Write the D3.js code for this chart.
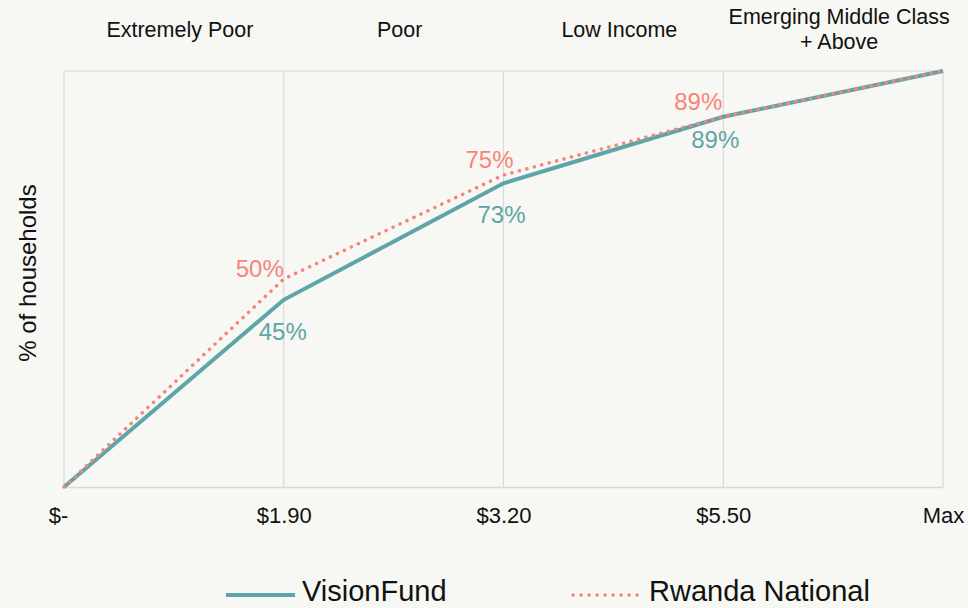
<!DOCTYPE html>
<html>
<head>
<meta charset="utf-8">
<script src="https://cdn.jsdelivr.net/npm/d3@7"></script>
<style>
  body { margin: 0; background: #f7f7f3; }
  text { font-family: "Liberation Sans", Arial, sans-serif; }
</style>
</head>
<body>
<script>
// data
const tickLabels = ["$-", "$1.90", "$3.20", "$5.50", "Max"];
const bands = [["Extremely Poor"], ["Poor"], ["Low Income"], ["Emerging Middle Class", "+ Above"]];
const visionFund = [0, 45, 73, 89, 100];
const rwanda = [0, 50, 75, 89, 100];

// label nudges (layout only)
const vfOffset = [[-1, 40], [-2, 40], [-8, 31]];
const rwOffset = [[-24, -2], [-14, -7], [-25, -7]];

const W = 968, H = 608;
const margin = { top: 71, right: 25, bottom: 121, left: 64 };
const width = W - margin.left - margin.right;
const height = H - margin.top - margin.bottom;

const teal = "#5ea5a9";
const salmon = "#f9837a";
const grid = "#d9d9d6";

const svg = d3.select("body").append("svg")
    .attr("width", W)
    .attr("height", H)
    .style("background", "#f7f7f3");

const g = svg.append("g")
    .attr("transform", "translate(" + margin.left + "," + margin.top + ")");

const x = d3.scalePoint().domain(d3.range(tickLabels.length)).range([0, width]);
const y = d3.scaleLinear().domain([0, 100]).range([height, 0]);

// grid lines
g.selectAll(".vgrid").data(d3.range(tickLabels.length))
    .enter().append("line")
    .attr("x1", d => x(d)).attr("x2", d => x(d))
    .attr("y1", 0).attr("y2", height)
    .attr("stroke", grid).attr("stroke-width", 1.2);
g.append("line").attr("x1", 0).attr("x2", width).attr("y1", 0).attr("y2", 0)
    .attr("stroke", grid).attr("stroke-width", 1.2);

// x axis
const xAxis = d3.axisBottom(x).tickSize(0).tickPadding(20).tickFormat(i => tickLabels[i]);
const ax = g.append("g").attr("transform", "translate(0," + height + ")").call(xAxis);
ax.select(".domain").attr("stroke", grid).attr("stroke-width", 1.5);
ax.selectAll("text").attr("font-size", 22).attr("fill", "#111")
    .attr("font-family", "Liberation Sans, Arial, sans-serif");
ax.selectAll(".tick").filter(i => i === 0).select("text").attr("dx", -6);

// band labels on top
bands.forEach((lines, i) => {
    const cx = (x(i) + x(i + 1)) / 2 + 6;
    const t = svg.append("text")
        .attr("x", margin.left + cx)
        .attr("y", lines.length > 1 ? 24 : 37)
        .attr("text-anchor", "middle")
        .attr("font-size", 21.5)
        .attr("fill", "#111");
    lines.forEach((l, j) => {
        t.append("tspan").attr("x", margin.left + cx).attr("dy", j ? 25 : 0).text(l);
    });
});

// y label
svg.append("text")
    .attr("transform", "translate(36,273) rotate(-90)")
    .attr("text-anchor", "middle")
    .attr("font-size", 24)
    .attr("fill", "#111")
    .text("% of households");

const line = d3.line().x((d, i) => x(i)).y(d => y(d));

g.append("path").datum(visionFund)
    .attr("d", line)
    .attr("fill", "none")
    .attr("stroke", teal)
    .attr("stroke-width", 4);

g.append("path").datum(rwanda)
    .attr("d", line)
    .attr("fill", "none")
    .attr("stroke", salmon)
    .attr("stroke-width", 3.5)
    .attr("stroke-linecap", "round")
    .attr("stroke-dasharray", "0.1 7.6");

// data labels
g.selectAll(".vlab").data(visionFund.slice(1, 4))
    .enter().append("text")
    .attr("x", (d, i) => x(i + 1) + vfOffset[i][0])
    .attr("y", (d, i) => y(d) + vfOffset[i][1])
    .attr("text-anchor", "middle")
    .attr("font-size", 24)
    .attr("fill", teal)
    .text(d => d + "%");

g.selectAll(".rlab").data(rwanda.slice(1, 4))
    .enter().append("text")
    .attr("x", (d, i) => x(i + 1) + rwOffset[i][0])
    .attr("y", (d, i) => y(d) + rwOffset[i][1])
    .attr("text-anchor", "middle")
    .attr("font-size", 24)
    .attr("fill", salmon)
    .text(d => d + "%");

// legend
const leg = svg.append("g");
leg.append("line").attr("x1", 226).attr("x2", 295).attr("y1", 595).attr("y2", 595)
    .attr("stroke", teal).attr("stroke-width", 4);
leg.append("text").attr("x", 302).attr("y", 601).attr("font-size", 29).attr("fill", "#111").text("VisionFund");
leg.append("line").attr("x1", 573).attr("x2", 641).attr("y1", 595).attr("y2", 595)
    .attr("stroke", salmon).attr("stroke-width", 3.5)
    .attr("stroke-linecap", "round").attr("stroke-dasharray", "0.1 7.9");
leg.append("text").attr("x", 649).attr("y", 601).attr("font-size", 29).attr("fill", "#111").text("Rwanda National");
</script>
</body>
</html>
